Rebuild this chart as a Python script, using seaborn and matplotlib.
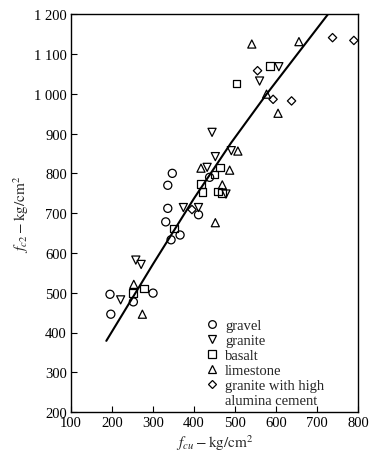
import matplotlib
matplotlib.use("Agg")
import matplotlib.pyplot as plt
import seaborn as sns
import pandas as pd
from matplotlib.lines import Line2D

# ---- data ----
gravel_x = [195, 197, 252, 300, 331, 336, 336, 347, 344, 366, 411, 438]
gravel_y = [496, 446, 477, 499, 678, 712, 770, 800, 633, 645, 696, 790]

granite_x = [221, 258, 271, 374, 411, 432, 452, 491, 444, 560, 607, 478]
granite_y = [482, 582, 571, 714, 714, 815, 842, 857, 903, 1032, 1068, 748]

basalt_x = [251, 278, 351, 417, 421, 450, 464, 458, 469, 504, 585]
basalt_y = [500, 511, 661, 773, 753, 797, 815, 754, 750, 1026, 1070]

limestone_x = [253, 274, 417, 452, 469, 487, 507, 541, 656, 577, 605]
limestone_y = [521, 446, 813, 676, 771, 808, 856, 1125, 1131, 999, 951]

alumina_x = [395, 555, 593, 638, 738, 790]
alumina_y = [709, 1058, 986, 982, 1141, 1134]

fit_x = [186, 300, 400, 490, 577, 727]
fit_y = [379, 572, 737, 876, 999, 1200]

groups = ["gravel", "granite", "basalt", "limestone", "granite with high"]
xs = [gravel_x, granite_x, basalt_x, limestone_x, alumina_x]
ys = [gravel_y, granite_y, basalt_y, limestone_y, alumina_y]
marker_map = {"gravel": "o", "granite": "v", "basalt": "s",
              "limestone": "^", "granite with high": "D"}
size_map = {"gravel": 34, "granite": 34, "basalt": 30,
            "limestone": 34, "granite with high": 18}

x_ticks = [100, 200, 300, 400, 500, 600, 700, 800]
y_ticks = [200, 300, 400, 500, 600, 700, 800, 900, 1000, 1100, 1200]
y_tick_labels = ["200", "300", "400", "500", "600", "700", "800", "900",
                 "1 000", "1 100", "1 200"]

# ---- plot ----
sns.set_theme(style="ticks")
plt.rcParams["font.family"] = ["Liberation Serif", "DejaVu Serif"]
plt.rcParams["mathtext.fontset"] = "stix"

fig = plt.figure(figsize=(3.76, 4.60), dpi=100)
ax = fig.add_axes([0.189, 0.102, 0.763, 0.865])

for g, gx, gy in zip(groups, xs, ys):
    df = pd.DataFrame({"x": gx, "y": gy})
    sns.scatterplot(data=df, x="x", y="y", marker=marker_map[g],
                    s=size_map[g], facecolor="none", edgecolor="black",
                    linewidth=0.9, ax=ax, label=g, legend=False)

sns.lineplot(x=fit_x, y=fit_y, color="black", lw=1.5, ax=ax,
             estimator=None, sort=False)

ax.set_xlim(100, 800)
ax.set_ylim(200, 1200)
ax.set_xticks(x_ticks)
ax.set_yticks(y_ticks)
ax.set_yticklabels(y_tick_labels)
ax.tick_params(direction="in", length=4, width=0.8, labelsize=10.5,
               colors="black", pad=3)
for sp in ax.spines.values():
    sp.set_linewidth(1.0)
    sp.set_color("black")

ax.set_xlabel(r"$f_{cu}-\mathrm{kg/cm^2}$", fontsize=11, labelpad=2)
ax.set_ylabel(r"$f_{c2}-\mathrm{kg/cm^2}$", fontsize=11, labelpad=2)

handles = []
for g in groups:
    handles.append(Line2D([], [], marker=marker_map[g], linestyle="none",
                          markerfacecolor="none", markeredgecolor="black",
                          markersize=5.5 if g != "granite with high" else 4,
                          markeredgewidth=0.9))
handles.append(Line2D([], [], linestyle="none", marker=None))
labels = groups + ["alumina cement"]
ax.legend(handles, labels, loc="lower left", bbox_to_anchor=(0.435, -0.012),
          frameon=False, fontsize=10.5, handlelength=0.8, handletextpad=0.5,
          labelspacing=0.12, borderpad=0.2)

fig.savefig("out.png", dpi=100)
